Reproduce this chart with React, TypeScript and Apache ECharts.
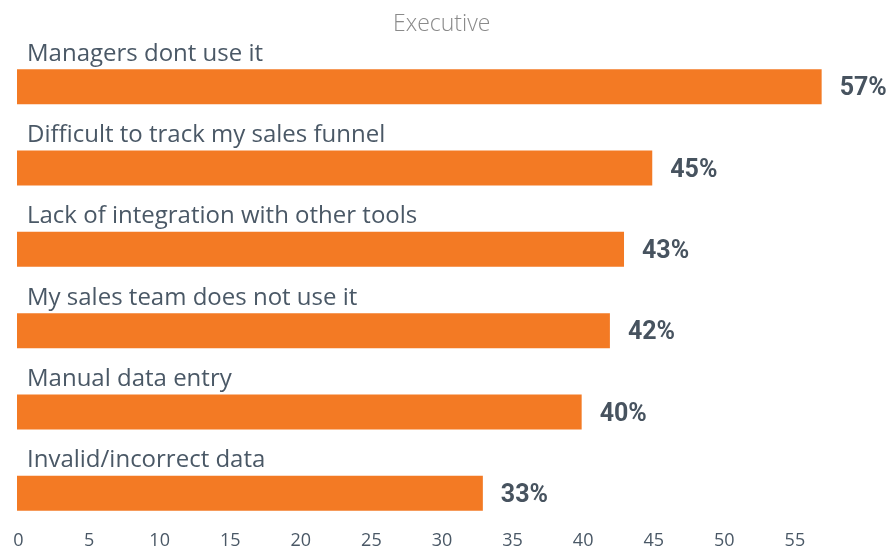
import React, { useEffect, useRef } from "react";
import * as echarts from "echarts";

const categories = [
  "Managers dont use it",
  "Difficult to track my sales funnel",
  "Lack of integration with other tools",
  "My sales team does not use it",
  "Manual data entry",
  "Invalid/incorrect data",
];
const values = [57, 45, 43, 42, 40, 33];
const titleText = "Executive";

export default function App() {
  const ref = useRef<HTMLDivElement>(null);
  useEffect(() => {
    if (!ref.current) return;
    const chart = echarts.init(ref.current, undefined, { renderer: "svg" });
    chart.setOption({
      animation: false,
      title: {
        text: titleText,
        left: 388,
        top: 5,
        textStyle: {
          fontFamily: "Open Sans",
          fontWeight: 300,
          fontSize: 23,
          color: "#8a8a8a",
        },
      },
      grid: { left: 17, right: 27, top: 46, bottom: 18, containLabel: false },
      xAxis: {
        type: "value",
        min: 0,
        max: 60,
        interval: 5,
        axisLine: { show: false },
        axisTick: { show: false },
        splitLine: { show: false },
        axisLabel: {
          showMaxLabel: false,
          margin: -4,
          fontFamily: "Open Sans",
          fontSize: 18,
          lineHeight: 18,
          color: "#4a5866",
          padding: [0, 0, 0, 3],
        },
      },
      yAxis: {
        type: "category",
        data: categories,
        inverse: true,
        axisLine: { show: false },
        axisTick: { show: false },
        axisLabel: { show: false },
      },
      series: [
        {
          type: "bar",
          data: values,
          barWidth: 35,
          itemStyle: { color: "#F37A24" },
          label: {
            show: true,
            position: "right",
            distance: 18,
            formatter: "{c}%",
            fontFamily: "Roboto",
            fontWeight: "bold",
            fontSize: 25,
            color: "#47535f",
          },
        },
        {
          type: "bar",
          data: values,
          barWidth: 35,
          barGap: "-100%",
          silent: true,
          itemStyle: { color: "rgba(0,0,0,0)" },
          label: {
            show: true,
            position: [10, -30],
            formatter: "{b}",
            fontFamily: "Open Sans",
            fontSize: 24,
            color: "#4a5866",
          },
        },
      ],
    });
    return () => chart.dispose();
  }, []);
  return (
    <div
      ref={ref}
      style={{ width: 891, height: 552, position: "fixed", left: 0, top: 0 }}
    />
  );
}
